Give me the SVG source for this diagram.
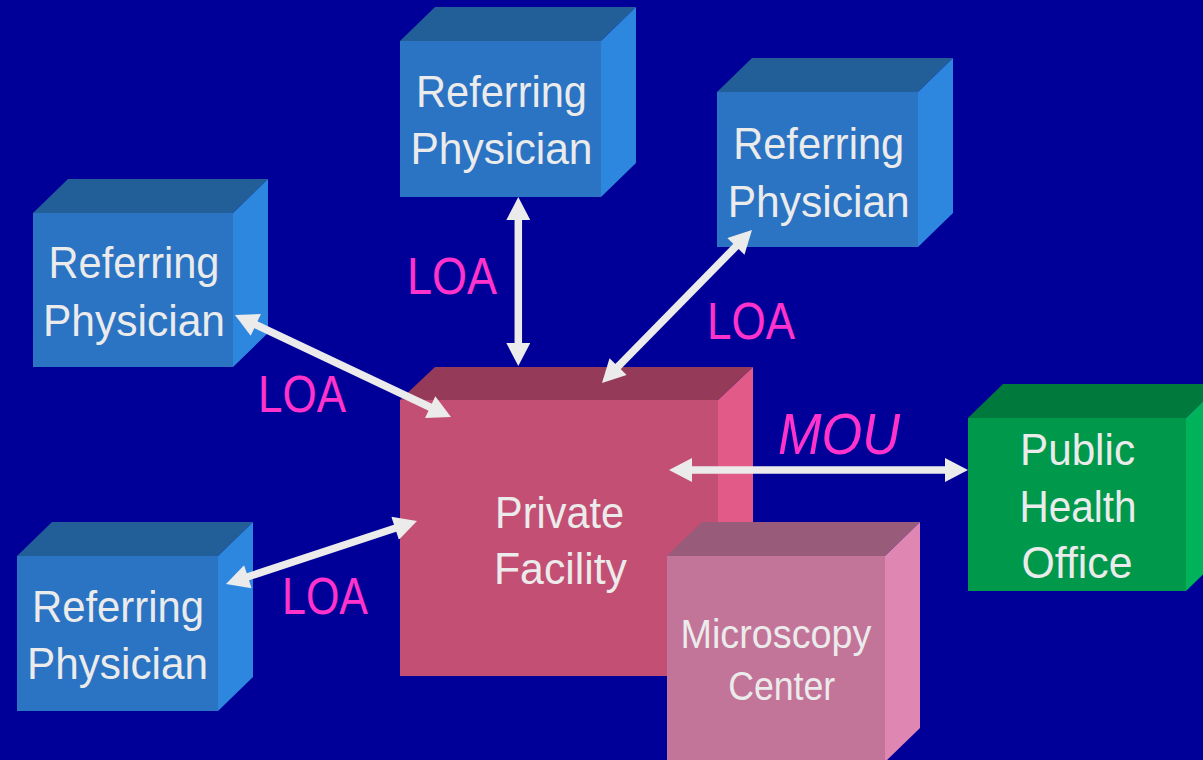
<svg xmlns="http://www.w3.org/2000/svg" width="1203" height="760" viewBox="0 0 1203 760">
<style>
.t{font-family:"Liberation Sans",Arial,sans-serif;font-size:45px;fill:#EBEBEB;text-anchor:middle}
.m{font-size:40px}
.loa{font-family:"Liberation Sans",Arial,sans-serif;font-size:51px;fill:#FF33CC}
.mou{font-family:"Liberation Sans",Arial,sans-serif;font-size:58px;font-style:italic;fill:#FF33CC}
.bf{fill:#2B73C3}.bt{fill:#225E98}.br{fill:#2E87DF}
.pf{fill:#C44F74}.pt{fill:#963A59}.pr{fill:#E15A88}
.mf{fill:#C37499}.mt{fill:#985B79}.mr{fill:#E086B3}
.gf{fill:#00994C}.gt{fill:#007A3C}.gr{fill:#00B35A}
.c line{stroke:#EBEBEB;stroke-width:7.5;marker-start:url(#ah);marker-end:url(#ah)}
</style>
<defs>
<marker id="ah" markerUnits="userSpaceOnUse" markerWidth="24" markerHeight="24" viewBox="0 0 23 24" refX="3" refY="12" orient="auto-start-reverse">
<path d="M0,0 L23,12 L0,24 z" fill="#EBEBEB"/>
</marker>
</defs>
<rect width="1203" height="760" fill="#000099"/>

<g id="rp-top">
<rect class="bf" x="400" y="41" width="201" height="156"/>
<polygon class="bt" points="400,41 435,7 636,7 601,41"/>
<polygon class="br" points="601,41 636,7 636,163 601,197"/>
<text class="t" x="501.5" y="107" textLength="171" lengthAdjust="spacingAndGlyphs">Referring</text>
<text class="t" x="501.5" y="164" textLength="182" lengthAdjust="spacingAndGlyphs">Physician</text>
</g>

<g id="rp-topright">
<rect class="bf" x="717" y="92" width="201" height="155"/>
<polygon class="bt" points="717,92 752,58 953,58 918,92"/>
<polygon class="br" points="918,92 953,58 953,213 918,247"/>
<text class="t" x="818.7" y="159" textLength="171" lengthAdjust="spacingAndGlyphs">Referring</text>
<text class="t" x="818.7" y="217" textLength="182" lengthAdjust="spacingAndGlyphs">Physician</text>
</g>

<g id="rp-left">
<rect class="bf" x="33" y="213" width="200" height="154"/>
<polygon class="bt" points="33,213 68,179 268,179 233,213"/>
<polygon class="br" points="233,213 268,179 268,333 233,367"/>
<text class="t" x="134" y="278" textLength="171" lengthAdjust="spacingAndGlyphs">Referring</text>
<text class="t" x="134" y="336" textLength="182" lengthAdjust="spacingAndGlyphs">Physician</text>
</g>

<g id="rp-bottomleft">
<rect class="bf" x="17" y="556" width="201" height="155"/>
<polygon class="bt" points="17,556 52,522 253,522 218,556"/>
<polygon class="br" points="218,556 253,522 253,677 218,711"/>
<text class="t" x="118" y="622" textLength="172" lengthAdjust="spacingAndGlyphs">Referring</text>
<text class="t" x="117.5" y="679" textLength="181" lengthAdjust="spacingAndGlyphs">Physician</text>
</g>

<g id="private-facility">
<rect class="pf" x="400" y="400" width="318" height="276"/>
<polygon class="pt" points="400,400 435,367 753,367 718,400"/>
<polygon class="pr" points="718,400 753,367 753,643 718,676"/>
<text class="t" x="559.5" y="528" textLength="129" lengthAdjust="spacingAndGlyphs">Private</text>
<text class="t" x="560.5" y="584" textLength="133" lengthAdjust="spacingAndGlyphs">Facility</text>
</g>

<g id="public-health-office">
<rect class="gf" x="968" y="418" width="218" height="173"/>
<polygon class="gt" points="968,418 1003,384 1221,384 1186,418"/>
<polygon class="gr" points="1186,418 1221,384 1221,557 1186,591"/>
<text class="t" x="1077.5" y="465" textLength="115" lengthAdjust="spacingAndGlyphs">Public</text>
<text class="t" x="1078" y="522" textLength="117" lengthAdjust="spacingAndGlyphs">Health</text>
<text class="t" x="1077" y="578" textLength="111" lengthAdjust="spacingAndGlyphs">Office</text>
</g>

<g id="microscopy-center">
<rect class="mf" x="667" y="556" width="218" height="206"/>
<polygon class="mt" points="667,556 702,522 920,522 885,556"/>
<polygon class="mr" points="885,556 920,522 920,728 885,762"/>
<text class="t m" x="776" y="648" textLength="191" lengthAdjust="spacingAndGlyphs">Microscopy</text>
<text class="t m" x="781.7" y="700" textLength="107" lengthAdjust="spacingAndGlyphs">Center</text>
</g>

<g id="connectors" class="c">
<line x1="518.3" y1="217" x2="518.3" y2="346"/>
<line x1="738" y1="244.3" x2="616" y2="368.7"/>
<line x1="253.1" y1="323.5" x2="432.9" y2="408.5"/>
<line x1="245" y1="577.7" x2="398" y2="527.3"/>
<line x1="689" y1="470" x2="948" y2="470"/>
</g>

<g id="labels">
<text class="loa" x="407" y="294" textLength="90" lengthAdjust="spacingAndGlyphs">LOA</text>
<text class="loa" x="707" y="339" textLength="88" lengthAdjust="spacingAndGlyphs">LOA</text>
<text class="loa" x="258" y="412" textLength="88" lengthAdjust="spacingAndGlyphs">LOA</text>
<text class="loa" x="282" y="614" textLength="86" lengthAdjust="spacingAndGlyphs">LOA</text>
<text class="mou" x="778" y="454" textLength="122" lengthAdjust="spacingAndGlyphs">MOU</text>
</g>
</svg>
